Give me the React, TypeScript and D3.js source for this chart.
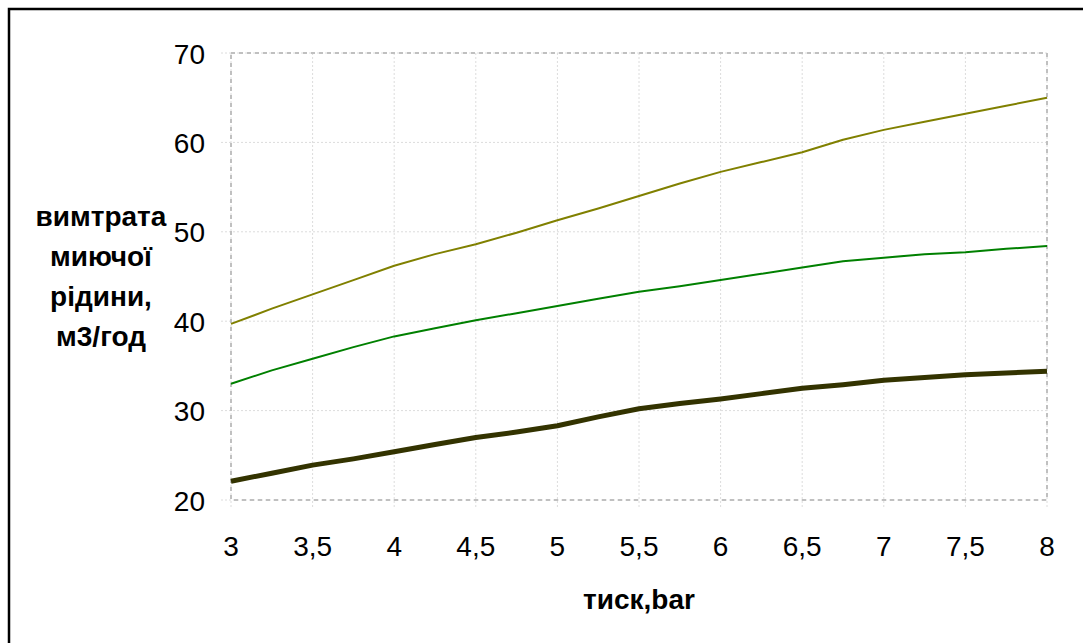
import React from "react";
import * as d3 from "d3";

const pressure = [3, 3.25, 3.5, 3.75, 4, 4.25, 4.5, 4.75, 5, 5.25, 5.5, 5.75, 6, 6.25, 6.5, 6.75, 7, 7.25, 7.5, 7.75, 8];
const seriesTop = [39.7, 41.4, 43.0, 44.6, 46.2, 47.5, 48.6, 49.9, 51.3, 52.6, 54.0, 55.4, 56.7, 57.8, 58.9, 60.3, 61.4, 62.3, 63.2, 64.1, 65.0];
const seriesMid = [33.0, 34.5, 35.8, 37.1, 38.3, 39.2, 40.1, 40.9, 41.7, 42.5, 43.3, 43.9, 44.6, 45.3, 46.0, 46.7, 47.1, 47.5, 47.7, 48.1, 48.4];
const seriesLow = [22.1, 23.0, 23.9, 24.6, 25.4, 26.2, 27.0, 27.6, 28.3, 29.3, 30.2, 30.8, 31.3, 31.9, 32.5, 32.9, 33.4, 33.7, 34.0, 34.2, 34.4];
const xTicks = [3, 3.5, 4, 4.5, 5, 5.5, 6, 6.5, 7, 7.5, 8];
const yTicks = [20, 30, 40, 50, 60, 70];
const yTitle = ["вимтрата", "миючої", "рідини,", "м3/год"];
const xTitle = "тиск,bar";

const W = 1083;
const H = 643;
const plot = { left: 231, right: 1047, top: 53, bottom: 500 };

export default function App() {
  const x = d3.scaleLinear().domain([3, 8]).range([plot.left, plot.right]);
  const y = d3.scaleLinear().domain([20, 70]).range([plot.bottom, plot.top]);
  const line = d3
    .line<number>()
    .x((_, i) => x(pressure[i]))
    .y((d) => y(d));
  const fmt = (v: number) => String(v).replace(".", ",");
  const series = [
    { data: seriesTop, color: "#808000", width: 2 },
    { data: seriesMid, color: "#008000", width: 2 },
    { data: seriesLow, color: "#333300", width: 5 },
  ];
  const font = "'Liberation Sans', Arial, sans-serif";
  return (
    <svg
      width={W}
      height={H}
      style={{ position: "absolute", left: 0, top: 0 }}
      fontFamily={font}
    >
      <rect x={0} y={0} width={W} height={H} fill="#fff" />
      <rect x={9} y={9} width={2000} height={2000} fill="none" stroke="#000" strokeWidth={2.5} />
      {xTicks.map((t) => (
        <line key={"gx" + t} x1={x(t)} x2={x(t)} y1={plot.top} y2={plot.bottom + 9} stroke="#dcdcdc" strokeWidth={1} strokeDasharray="2,2" />
      ))}
      {yTicks.map((t) => (
        <line key={"gy" + t} x1={plot.left - 10} x2={plot.right} y1={y(t)} y2={y(t)} stroke="#dcdcdc" strokeWidth={1} strokeDasharray="2,2" />
      ))}
      <rect
        x={plot.left}
        y={plot.top}
        width={plot.right - plot.left}
        height={plot.bottom - plot.top}
        fill="none"
        stroke="#c0c0c0"
        strokeWidth={2}
        strokeDasharray="4,4"
      />
      {series.map((s, i) => (
        <path key={i} d={line(s.data) || ""} fill="none" stroke={s.color} strokeWidth={s.width} strokeLinejoin="round" />
      ))}
      {yTicks.map((t) => (
        <text key={"ly" + t} x={205} y={y(t)} dy="0.38em" textAnchor="end" fontSize={28} fill="#000">
          {fmt(t)}
        </text>
      ))}
      {xTicks.map((t) => (
        <text key={"lx" + t} x={x(t)} y={556} textAnchor="middle" fontSize={28} fill="#000">
          {fmt(t)}
        </text>
      ))}
      <text x={(plot.left + plot.right) / 2} y={609} textAnchor="middle" fontSize={28} fontWeight="bold" fill="#000">
        {xTitle}
      </text>
      {yTitle.map((s, i) => (
        <text key={s} x={101} y={226 + i * 40} textAnchor="middle" fontSize={28} fontWeight="bold" fill="#000">
          {s}
        </text>
      ))}
    </svg>
  );
}
